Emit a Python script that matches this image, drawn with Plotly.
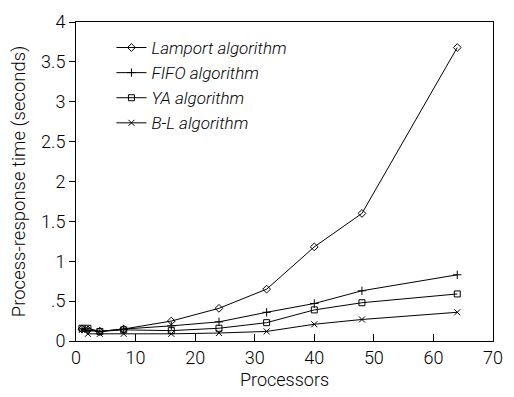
import plotly.graph_objects as go

processors = [1, 2, 4, 8, 16, 24, 32, 40, 48, 64]
lamport = [0.15, 0.14, 0.12, 0.15, 0.25, 0.41, 0.65, 1.18, 1.60, 3.68]
fifo = [0.15, 0.13, 0.12, 0.15, 0.19, 0.24, 0.36, 0.47, 0.63, 0.83]
ya = [0.16, 0.16, 0.12, 0.14, 0.13, 0.16, 0.23, 0.39, 0.48, 0.59]
bl = [0.14, 0.09, 0.09, 0.09, 0.09, 0.10, 0.12, 0.21, 0.27, 0.36]

series = [
    ("Lamport algorithm", lamport, "diamond-open"),
    ("FIFO algorithm", fifo, "cross-thin-open"),
    ("YA algorithm", ya, "square-open"),
    ("B-L algorithm", bl, "x-thin-open"),
]

ytick_vals = [0, 0.5, 1, 1.5, 2, 2.5, 3, 3.5, 4]
ytick_text = ["0", ".5", "1", "1.5", "2", "2.5", "3", "3.5", "4"]
xtick_vals = [0, 10, 20, 30, 40, 50, 60, 70]

FONT = "Roboto, Liberation Sans, Arial, sans-serif"

fig = go.Figure()
for name, vals, sym in series:
    fig.add_trace(go.Scatter(
        x=processors, y=vals, name=name, mode="lines+markers",
        line=dict(color="black", width=1),
        marker=dict(symbol=sym, size=6, color="black", line=dict(color="black", width=1)),
    ))

fig.update_layout(
    width=514, height=397,
    margin=dict(l=76, r=11, t=15, b=56),
    paper_bgcolor="white", plot_bgcolor="white",
    font=dict(family=FONT, color="black", size=17, weight=300),
    showlegend=True,
    legend=dict(
        x=0.085, y=0.975, xanchor="left", yanchor="top",
        bgcolor="rgba(0,0,0,0)", borderwidth=0,
        font=dict(family=FONT, size=17, style="italic", weight=300),
        tracegroupgap=0, itemwidth=30,
    ),
)
fig.update_xaxes(
    range=[0, 70], tickvals=xtick_vals, ticks="inside", ticklen=7, tickcolor="black",
    showline=True, linecolor="black", linewidth=1, mirror=True, showgrid=False, zeroline=False,
    title=dict(text="Processors", font=dict(size=18, weight=300), standoff=6),
    tickfont=dict(size=18, weight=300),
)
fig.update_yaxes(
    range=[0, 4], tickvals=ytick_vals, ticktext=ytick_text, ticks="outside", ticklen=6, tickcolor="black",
    showline=True, linecolor="black", linewidth=1, mirror=True, showgrid=False, zeroline=False,
    title=dict(text="Process-response time (seconds)", font=dict(size=18.5, weight=300), standoff=10),
    tickfont=dict(size=18, weight=300),
)

fig.write_html("out.html")
